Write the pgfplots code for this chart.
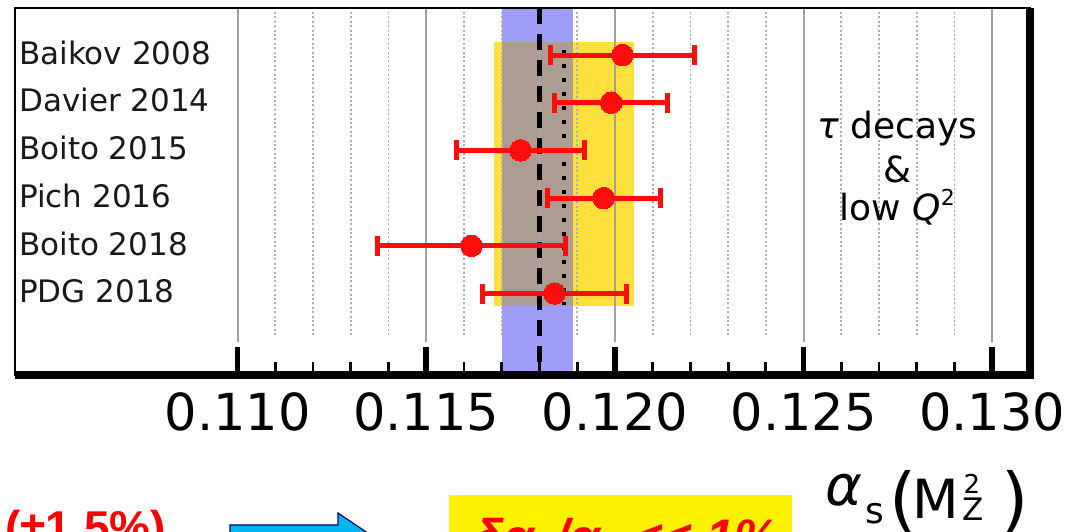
\documentclass[border=0pt]{standalone}
\usepackage{pgfplots}
\pgfplotsset{compat=1.18}
\usepackage{pgfplotstable}
\usepackage{fontspec}
\setmainfont{DejaVu Sans}
\newfontfamily\arialf{Liberation Sans}

\definecolor{band}{RGB}{158,158,248}
\definecolor{taupe}{RGB}{172,156,146}
\definecolor{gold}{RGB}{255,224,60}
\definecolor{gridgray}{RGB}{160,160,160}
\definecolor{mingray}{RGB}{175,175,175}
\definecolor{arrowcyan}{RGB}{0,183,240}
\definecolor{ptred}{RGB}{255,12,12}

% alpha_s(M_Z^2) determinations: value, row, symmetric uncertainty
\pgfplotstableread{
x      y  e
0.1202 1  0.0019
0.1199 2  0.0015
0.1175 3  0.0017
0.1197 4  0.0015
0.1162 5  0.0025
0.1184 6  0.0019
}\alphas

\begin{document}
\begin{tikzpicture}
\useasboundingbox (0,0) rectangle (534.5pt,-265.5pt);
\clip (0,0) rectangle (534.5pt,-265.5pt);
\begin{axis}[
  at={(7.5pt,-187.5pt)}, anchor=south west,
  scale only axis, width=507.5pt, height=183.5pt,
  xmin=0.1041, xmax=0.1310,
  ymin=0.0147, ymax=7.7086, y dir=reverse,
  ytick=\empty,
  xtick={0.110,0.115,0.120,0.125,0.130},
  xticklabels={0.110,0.115,0.120,0.125,0.130},
  minor xtick={0.111,0.112,0.113,0.114,0.116,0.117,0.118,0.119,0.121,0.122,0.123,0.124,0.126,0.127,0.128,0.129},
  scaled x ticks=false,
  xtick pos=lower, tick align=inside,
  major tick length=14pt, minor tick length=6.5pt,
  every major tick/.append style={line width=2.8pt, black},
  every minor tick/.append style={line width=1.4pt, black},
  xticklabel style={font=\fontsize{25.5}{25.5}\selectfont, anchor=base, yshift=-27.5pt},
  axis line style={line width=1.3pt, black},
  axis on top,
  clip=false,
]
% world-average band, tau/low-Q^2 average box and their overlap
\addplot[draw=none, fill=band] coordinates {(0.1170,0.0147) (0.1189,0.0147) (0.1189,7.7086) (0.1170,7.7086)} -- cycle;
\addplot[draw=none, fill=gold] coordinates {(0.1168,0.727) (0.1205,0.727) (0.1205,6.262) (0.1168,6.262)} -- cycle;
\addplot[draw=none, fill=taupe] coordinates {(0.1170,0.727) (0.1189,0.727) (0.1189,6.262) (0.1170,6.262)} -- cycle;

% grid
\pgfplotsinvokeforeach{0.111,0.112,0.113,0.114,0.116,0.117,0.118,0.119,0.121,0.122,0.123,0.124,0.126,0.127,0.128,0.129}{
  \draw[mingray, line width=0.9pt, dash pattern=on 1pt off 1.2pt] (axis cs:#1,0.098) -- (axis cs:#1,6.87);
}
\pgfplotsinvokeforeach{0.110,0.115,0.120,0.125,0.130}{
  \draw[gridgray, line width=1pt] (axis cs:#1,0.0147) -- (axis cs:#1,7.017);
}

% central values
\addplot[black, line width=2.5pt, dash pattern=on 8pt off 5pt] coordinates {(0.1180,0.0147) (0.1180,7.7086)};
\addplot[black, line width=2pt, dash pattern=on 2pt off 5pt] coordinates {(0.11865,0.895) (0.11865,6.24)};

% measurements
\addplot[only marks, mark=*, mark size=5.4pt, ptred,
  mark options={fill=ptred, draw=ptred, line width=0pt},
  error bars/.cd, x dir=both, x explicit,
  error bar style={line width=2.5pt, ptred},
  error mark options={ptred, line width=2.5pt, mark size=5pt, rotate=90}]
  table[x=x, y=y, x error=e] {\alphas};

% row labels
\begin{scope}[every node/.style={anchor=base west, inner sep=0pt, font=\fontsize{15.5}{15.5}\selectfont, text=black!90}]
\node at (axis cs:0.1042,1.193) {Baikov 2008};
\node at (axis cs:0.1042,2.193) {Davier 2014};
\node at (axis cs:0.1042,3.193) {Boito 2015};
\node at (axis cs:0.1042,4.193) {Pich 2016};
\node at (axis cs:0.1042,5.193) {Boito 2018};
\node at (axis cs:0.1042,6.193) {PDG 2018};
\end{scope}

\begin{scope}[every node/.style={anchor=base, inner sep=0pt, font=\fontsize{18}{18}\selectfont}]
\node at (axis cs:0.12748,2.740) {{\itshape τ} decays};
\node at (axis cs:0.12748,3.683) {\&};
\node at (axis cs:0.12748,4.459) {low {\itshape Q}\raisebox{0.75ex}{\fontsize{11}{11}\selectfont 2}};
\end{scope}
\end{axis}

% thick lower and right frame
\draw[line width=3.6pt, black] (7.5pt,-187.5pt) -- (515pt,-187.5pt) -- (515pt,-4pt);

% annotations below the plot
\node[anchor=base west, inner sep=0pt, text=red, font=\arialf\bfseries\fontsize{23}{23}\selectfont] at (2.5pt,-271.8pt) {(±1.5\%)};
\filldraw[fill=arrowcyan, draw=black!60!blue, line width=0.6pt]
  (115pt,-262.5pt) -- (169pt,-262.5pt) -- (169pt,-256.5pt) -- (189pt,-270pt)
  -- (169pt,-283.5pt) -- (169pt,-277.5pt) -- (115pt,-277.5pt) -- cycle;
\fill[yellow] (224.5pt,-247.5pt) rectangle (396pt,-300pt);
\node[anchor=base west, inner sep=0pt, text=red, font=\arialf\bfseries\itshape\fontsize{25}{25}\selectfont]
  at (236.5pt,-277pt) {δα\textsubscript{s}/α\textsubscript{s} <\kern0pt< 1\%};

% axis quantity alpha_s(M_Z^2)
\node[anchor=base west, inner sep=0pt, font=\itshape\fontsize{28}{28}\selectfont] at (412.6pt,-252.5pt) {α};
\node[anchor=base west, inner sep=0pt, font=\fontsize{18}{18}\selectfont] at (432.6pt,-261.5pt) {s};
\node[anchor=base west, inner sep=0pt, font=\fontsize{35}{35}\selectfont] at (444.5pt,-261.5pt) {(};
\node[anchor=base west, inner sep=0pt, font=\fontsize{27}{27}\selectfont] at (456pt,-259pt) {M};
\node[anchor=base west, inner sep=0pt, font=\fontsize{13}{13}\selectfont] at (481.6pt,-246.5pt) {2};
\node[anchor=base west, inner sep=0pt, font=\fontsize{15.5}{15.5}\selectfont] at (480.8pt,-260pt) {Z};
\node[anchor=base west, inner sep=0pt, font=\fontsize{35}{35}\selectfont] at (500.3pt,-261.5pt) {)};
\end{tikzpicture}
\end{document}
